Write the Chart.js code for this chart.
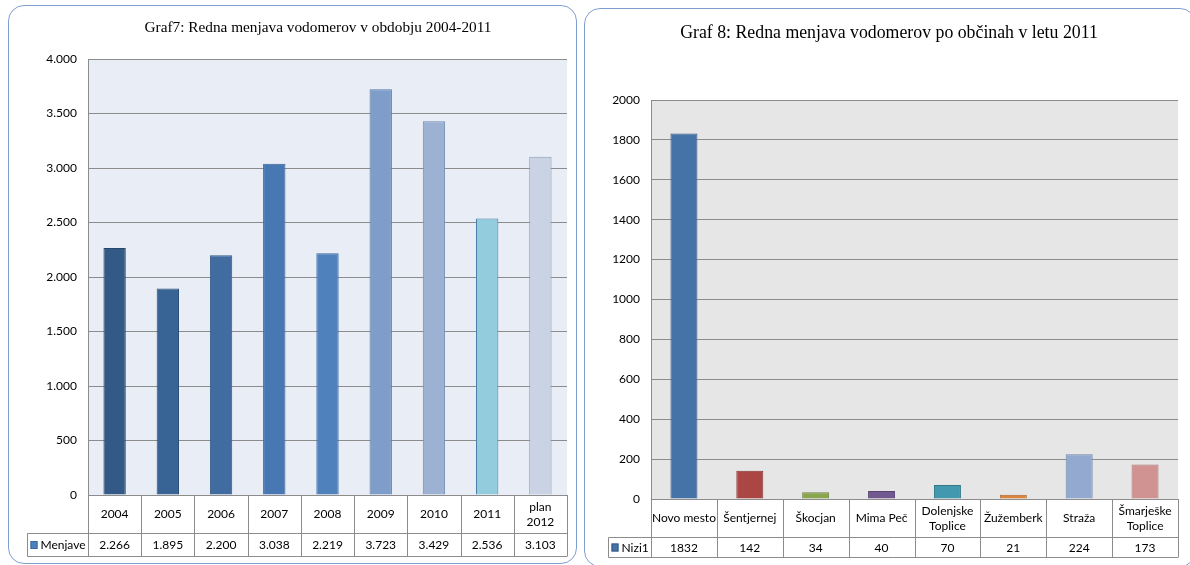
<!DOCTYPE html>
<html>
<head>
<meta charset="utf-8">
<script src="https://cdn.jsdelivr.net/npm/chart.js@4.4.1/dist/chart.umd.min.js"></script>
<style>
  html, body { margin: 0; padding: 0; background: #ffffff; }
  body { width: 1190px; height: 565px; position: relative; overflow: hidden; }
  .box { position: absolute; border: 1.3px solid #7f9fd0; border-radius: 16px; box-sizing: border-box; }
  #box1 { left: 8px; top: 5px; width: 569px; height: 559px; }
  #box2 { left: 584px; top: 8px; width: 612px; height: 559px; }
  canvas { position: absolute; top: 0; }
  #c1 { left: 0; }
  #c2 { left: 580px; }
</style>
</head>
<body>
<div class="box" id="box1"></div>
<div class="box" id="box2"></div>
<canvas id="c1" width="580" height="565"></canvas>
<canvas id="c2" width="610" height="565"></canvas>
<script>
// ---- Data ----
const title1 = 'Graf7: Redna menjava vodomerov v obdobju 2004-2011';
const years = ['2004', '2005', '2006', '2007', '2008', '2009', '2010', '2011', ['plan', '2012']];
const menjave = [2266, 1895, 2200, 3038, 2219, 3723, 3429, 2536, 3103];
const menjaveLabels = ['2.266', '1.895', '2.200', '3.038', '2.219', '3.723', '3.429', '2.536', '3.103'];
const series1Name = 'Menjave';
const yTicks1 = [0, 500, 1000, 1500, 2000, 2500, 3000, 3500, 4000];

const title2 = 'Graf 8: Redna menjava vodomerov po občinah v letu 2011';
const obcine = ['Novo mesto', 'Šentjernej', 'Škocjan', 'Mima Peč', ['Dolenjske', 'Toplice'], 'Žužemberk', 'Straža', ['Šmarješke', 'Toplice']];
const nizi1 = [1832, 142, 34, 40, 70, 21, 224, 173];
const series2Name = 'Nizi1';
const yTicks2 = [0, 200, 400, 600, 800, 1000, 1200, 1400, 1600, 1800, 2000];

// ---- Styles ----
const colors1 = ['#335a86', '#386395', '#416ca0', '#4878b4', '#4f81bd', '#7f9dc9', '#9db1d2', '#93cddd', '#c9d3e4'];
const borders1 = ['#284869', '#2d4f78', '#345884', '#3a6296', '#3f699c', '#5878a6', '#6f88b0', '#4a7ea6', '#8a9bbb'];
const colors2 = ['#4572a7', '#aa4643', '#89a54e', '#71588f', '#4198af', '#db843d', '#93a9cf', '#d19392'];
const borders2 = ['#345984', '#863634', '#6a813b', '#574370', '#307688', '#ad6630', '#7286a8', '#a87473'];
const gridColor = '#8c8c8c';
const tickFont = { family: 'Lato', size: 12 };

function fmtDots(v) { return String(v).replace(/\B(?=(\d{3})+(?!\d))/g, '.'); }

const bgPlugin = {
  id: 'plotBg',
  beforeDraw(chart, args, opts) {
    const { ctx, chartArea: a } = chart;
    ctx.save();
    ctx.fillStyle = opts.color;
    ctx.fillRect(a.left, a.top, a.right - a.left, a.bottom - a.top);
    ctx.restore();
  }
};

const tablePlugin = {
  id: 'dataTable',
  afterDraw(chart, args, o) {
    const { ctx, chartArea: a, scales: { x } } = chart;
    const labels = chart.data.labels;
    const vals = o.values;
    const n = labels.length;
    const colW = (a.right - a.left) / n;
    const r0 = Math.round(a.bottom) + 0.5;
    const r1 = o.row1Bottom + 0.5;
    const r2 = o.row2Bottom + 0.5;
    const L = o.legendLeft + 0.5;
    ctx.save();
    ctx.strokeStyle = gridColor;
    ctx.lineWidth = 1;
    ctx.beginPath();
    ctx.moveTo(L, r1); ctx.lineTo(a.right, r1);
    ctx.moveTo(L, r2); ctx.lineTo(a.right, r2);
    ctx.moveTo(L, r1); ctx.lineTo(L, r2);
    for (let i = 0; i <= n; i++) {
      const xx = Math.round(a.left + i * colW) + 0.5;
      ctx.moveTo(xx, r0); ctx.lineTo(xx, r2);
    }
    ctx.stroke();
    // title
    ctx.fillStyle = '#000';
    ctx.font = o.titleFont;
    ctx.textAlign = 'center';
    ctx.textBaseline = 'middle';
    ctx.fillText(o.title, o.titleX, o.titleY);
    // labels and values
    ctx.font = '12px Lato';
    ctx.fillStyle = '#000';
    for (let i = 0; i < n; i++) {
      const cx = x.getPixelForValue(i);
      const lab = labels[i];
      const lines = Array.isArray(lab) ? lab : [lab];
      const mid = (r0 + r1) / 2;
      const lh = 15;
      lines.forEach((t, k) => {
        ctx.fillText(t, cx, mid + (k - (lines.length - 1) / 2) * lh);
      });
      ctx.fillText(vals[i], cx, (r1 + r2) / 2 + 0.5);
    }
    // legend cell
    const midL = (r1 + r2) / 2;
    ctx.fillStyle = o.swatch;
    ctx.fillRect(L + 3, midL - 4, 7, 8);
    ctx.strokeStyle = o.swatchBorder;
    ctx.strokeRect(L + 3.5, midL - 3.5, 6, 7);
    ctx.fillStyle = '#000';
    ctx.textAlign = 'left';
    ctx.fillText(o.seriesName, L + 13, midL + 0.5);
    ctx.restore();
  }
};

function makeChart(id, cfg) {
  return new Chart(document.getElementById(id), {
    type: 'bar',
    data: {
      labels: cfg.labels,
      datasets: [{
        label: cfg.seriesName,
        data: cfg.data,
        backgroundColor: cfg.colors,
        borderColor: cfg.borders,
        borderWidth: 1,
        categoryPercentage: 1,
        barPercentage: cfg.barPct
      }]
    },
    options: {
      responsive: false,
      animation: false,
      layout: { padding: { top: cfg.top, left: 0, right: cfg.right, bottom: 0 } },
      plugins: {
        legend: { display: false },
        title: { display: false },
        tooltip: { enabled: false },
        plotBg: { color: cfg.bg },
        dataTable: cfg.table
      },
      scales: {
        x: {
          ticks: { display: false },
          grid: { display: false, drawTicks: false },
          border: { display: true, color: gridColor },
          afterFit(s) { s.height = cfg.xHeight; }
        },
        y: {
          min: 0, max: cfg.max,
          afterBuildTicks(s) { s.ticks = cfg.yTicks.map(v => ({ value: v })); },
          ticks: { font: tickFont, color: '#000', padding: cfg.tickPad, callback: cfg.fmt },
          grid: { color: gridColor, drawTicks: false },
          border: { display: true, color: gridColor },
          afterFit(s) { s.width = cfg.yWidth; }
        }
      }
    },
    plugins: [bgPlugin, tablePlugin]
  });
}

makeChart('c1', {
  labels: years, data: menjave, seriesName: series1Name,
  colors: colors1, borders: borders1, barPct: 0.42,
  top: 59, right: 13, xHeight: 70, yWidth: 88, tickPad: 11, max: 4000, yTicks: yTicks1,
  fmt: v => fmtDots(v), bg: '#e9edf5',
  table: {
    values: menjaveLabels, row1Bottom: 533, row2Bottom: 556, legendLeft: 27,
    swatch: '#4f81bd', swatchBorder: '#3d6a9e', seriesName: series1Name,
    title: title1, titleX: 318, titleY: 28, titleFont: '15.3px "Liberation Serif"'
  }
});

makeChart('c2', {
  labels: obcine, data: nizi1, seriesName: series2Name,
  colors: colors2, borders: borders2, barPct: 0.41,
  top: 100, right: 12, xHeight: 66, yWidth: 71, tickPad: 11, max: 2000, yTicks: yTicks2,
  fmt: v => String(v), bg: '#e6e6e6',
  table: {
    values: nizi1.map(String), row1Bottom: 537, row2Bottom: 557, legendLeft: 28,
    swatch: '#4572a7', swatchBorder: '#375b86', seriesName: series2Name,
    title: title2, titleX: 309, titleY: 33, titleFont: '17.8px "Liberation Serif"'
  }
});
</script>
</body>
</html>
